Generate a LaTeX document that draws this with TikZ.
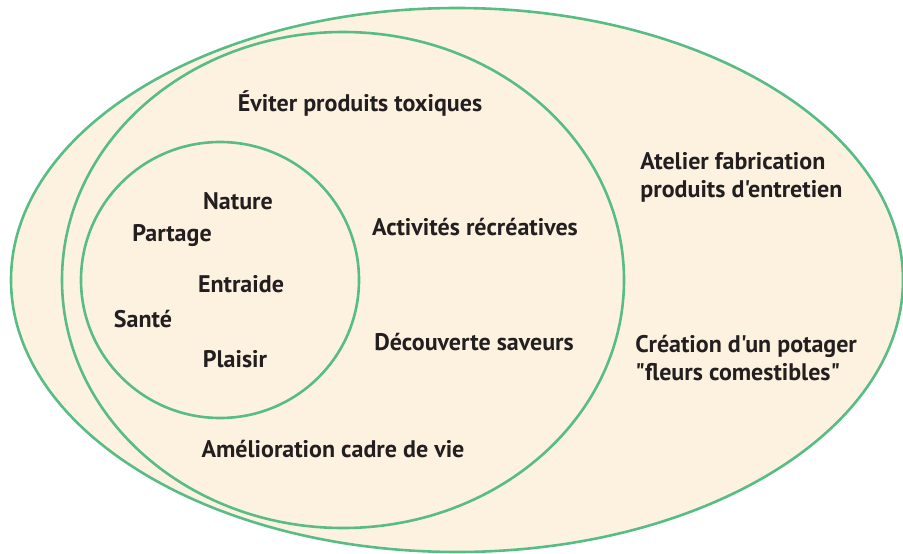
\documentclass[tikz,border=0pt]{standalone}
\usepackage{fontspec}
\setmainfont{PT Sans}[Ligatures=TeXOff]
\definecolor{ringgreen}{HTML}{57BD85}
\definecolor{ringfill}{HTML}{FDF2E0}
\definecolor{labeltext}{HTML}{231F20}
\begin{document}
\begin{tikzpicture}[x=1pt,y=-1pt,thick,
        ring/.style={draw=ringgreen,fill=ringfill,line width=2.6pt},
        main node/.style={text=labeltext,font=\fontsize{24}{28}\selectfont\bfseries,inner sep=0pt}]
                \useasboundingbox (0,0) rectangle (903,554);
                % three nested rings
                \path[ring] (457,280) ellipse [x radius=446pt, y radius=272pt];
                \path[ring] (343,280) ellipse [x radius=281pt, y radius=248pt];
                \path[ring] (220,280) ellipse [x radius=139pt, y radius=138pt];

                % inner ring
                \node[main node] at (238, 201) (nature) {Nature};
                \node[main node] at (172, 236) (partage) {Partage};
                \node[main node] at (241, 284) (entraide) {Entraide};
                \node[main node] at (143, 319) (sante) {Santé};
                \node[main node] at (235, 359) (plaisir) {Plaisir};

                % middle ring
                \node[main node] at (360, 103) (toxiques) {Éviter produits toxiques};
                \node[main node] at (475, 227) (activites) {Activités récréatives};
                \node[main node] at (474, 342) (saveurs) {Découverte saveurs};
                \node[main node] at (333, 449) (cadre) {Amélioration cadre de vie};

                % outer ring
                \node[main node,align=left,anchor=west] at (640, 177) (atelier) {Atelier fabrication\\produits d'entretien};
                \node[main node,align=left,anchor=west] at (635, 358) (potager) {Création d'un potager\\"fleurs comestibles"};
            \end{tikzpicture}
\end{document}
